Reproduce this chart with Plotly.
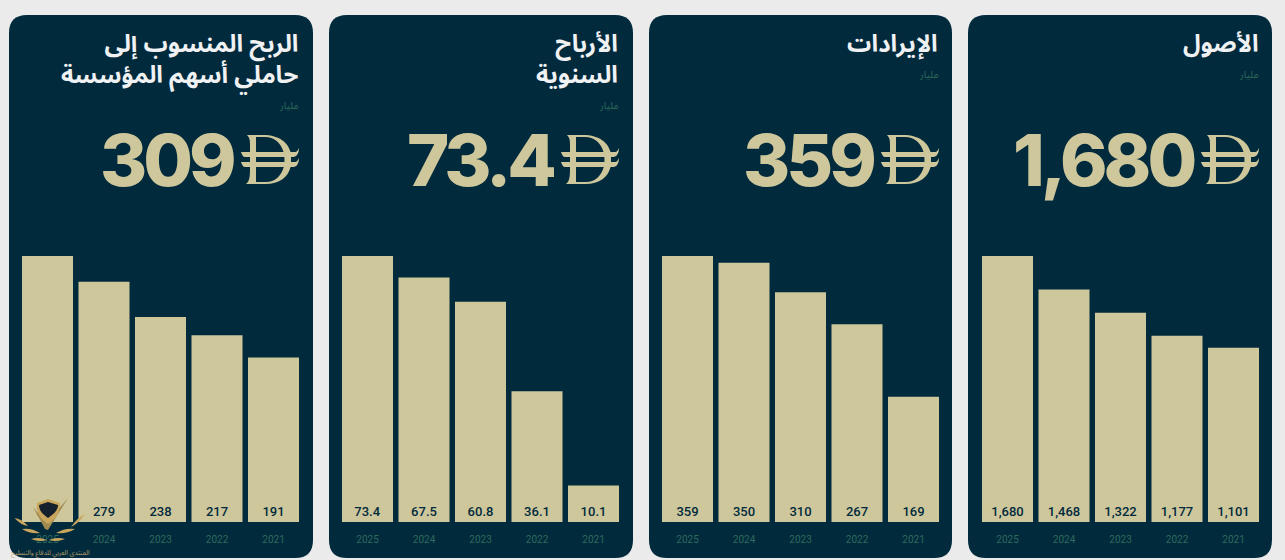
import re
import plotly.graph_objects as go

W, H = 1285, 560
YEARS = ["2025", "2024", "2023", "2022", "2021"]
assets = [1680, 1468, 1322, 1177, 1101]
revenue = [359, 350, 310, 267, 169]
annual_profit = [73.4, 67.5, 60.8, 36.1, 10.1]
shareholder_profit = [309, 279, 238, 217, 191]
labels_assets = ["1,680", "1,468", "1,322", "1,177", "1,101"]
labels_revenue = ["359", "350", "310", "267", "169"]
labels_annual = ["73.4", "67.5", "60.8", "36.1", "10.1"]
labels_share = ["309", "279", "238", "217", "191"]
titles = ["الأصول", "الإيرادات", "الأرباح<br>السنوية", "الربح المنسوب إلى<br>حاملي أسهم المؤسسة"]
headlines = ["1,680", "359", "73.4", "309"]
UNIT = "مليار"
WATERMARK = "المنتدى العربي للدفاع والتسليح"

NAVY = "#012a3d"
SAND = "#cec79b"
GREEN = "#2f6a5c"
WHITE = "#f0f1f3"
GOLD = "#c9a65c"
ARABIC = "Noto Sans Arabic, DejaVu Sans, sans-serif"
TRACK = 4

cards = [
    (968, 1272, 1259, assets, labels_assets),
    (649, 952, 939, revenue, labels_revenue),
    (329, 633, 619, annual_profit, labels_annual),
    (9, 313, 299, shareholder_profit, labels_share),
]

fx = lambda v: v / W
fy = lambda v: 1 - v / H


def to_paper(d):
    out = []
    is_x = True
    for tok in re.findall(r"[MLCQZ]|-?\d+\.?\d*", d):
        if tok in "MLCQZ":
            out.append(tok)
            is_x = True
        else:
            v = float(tok)
            out.append(f"{fx(v):.6f}" if is_x else f"{fy(v):.6f}")
            is_x = not is_x
    return " ".join(out)


def deco(d, color):
    return dict(type="path", xref="paper", yref="paper", path=to_paper(d), fillcolor=color,
                line=dict(width=0), layer="above")


def rounded(x0, y0, x1, y1, r):
    return (f"M{x0+r},{y0} L{x1-r},{y0} Q{x1},{y0} {x1},{y0+r} L{x1},{y1-r} Q{x1},{y1} {x1-r},{y1} "
            f"L{x0+r},{y1} Q{x0},{y1} {x0},{y1-r} L{x0},{y0+r} Q{x0},{y0} {x0+r},{y0} Z")


def dirham(xr):
    ox = xr - 58
    oy = 135
    d = (
        f"M{ox+6},{oy} L{ox+22},{oy} C{ox+39},{oy} {ox+47},{oy+8} {ox+49.5},{oy+17} "
        f"L{ox+54},{oy+17} C{ox+56},{oy+17} {ox+57},{oy+15} {ox+58},{oy+13} "
        f"C{ox+58},{oy+18} {ox+56},{oy+22} {ox+52},{oy+22} L{ox+50},{oy+22} L{ox+50},{oy+27} "
        f"L{ox+54},{oy+27} C{ox+56},{oy+27} {ox+57},{oy+25} {ox+58},{oy+23} "
        f"C{ox+58},{oy+28} {ox+56},{oy+32} {ox+52.4},{oy+32} L{ox+49.6},{oy+32} "
        f"C{ox+47},{oy+42} {ox+39},{oy+49} {ox+24},{oy+49} L{ox+5},{oy+49} "
        f"C{ox+9},{oy+46} {ox+9},{oy+40} {ox+9},{oy+32} L{ox+4},{oy+32} "
        f"C{ox+2},{oy+32} {ox+1},{oy+30} {ox},{oy+27} L{ox+9},{oy+27} L{ox+9},{oy+22} L{ox+4},{oy+22} "
        f"C{ox+2},{oy+22} {ox+1},{oy+20} {ox},{oy+17} L{ox+9},{oy+17} L{ox+9},{oy+10} "
        f"C{ox+9},{oy+6} {ox+9},{oy+3} {ox+6},{oy} Z "
        f"M{ox+15},{oy+2} L{ox+15},{oy+17} L{ox+42.5},{oy+17} C{ox+40},{oy+8} {ox+33},{oy+2} {ox+24},{oy+2} Z "
        f"M{ox+15},{oy+22} L{ox+15},{oy+27} L{ox+43.4},{oy+27} L{ox+43.4},{oy+22} Z "
        f"M{ox+15},{oy+32} L{ox+15},{oy+47} L{ox+25},{oy+47} C{ox+34},{oy+47} {ox+40},{oy+41} {ox+42.8},{oy+32} Z"
    )
    return deco(d, SAND)


def feather(x0, y0, x1, y1, t):
    mx, my = (x0 + x1) / 2, (y0 + y1) / 2
    return f"M{x0},{y0} Q{mx},{my+t} {x1},{y1} Q{mx},{my-t} {x0},{y0} Z"


def logo():
    """Stamp in the lower left corner of the screenshot."""
    c = 48
    items = [
        ("M33,507 L45,529 L48,530 L68,498 L50,519 L48,523 L43,519 Z", "#a08a50"),
        (f"M{c},499 L60,503 C60,512 56,519 {c},524 C40,519 36,512 37,503 Z", GOLD),
        (f"M{c},502 L58,505 C58,510 54,514 {c},518 C42,514 39,510 39,505 Z", "#14202c"),
        (feather(14.5, 518, 28, 526, 3.5), GOLD),
        (feather(22, 529, 40, 533, 3.5), GOLD),
        (feather(31, 539, 47, 540, 3), GOLD),
        (feather(85, 514, 71, 527, 3.5), GOLD),
        (feather(75, 529, 56, 533, 3.5), GOLD),
        (feather(65, 539, 49, 540, 3), GOLD),
    ]
    return [deco(d, col) for d, col in items]


fig = go.Figure()
shapes, annotations = [], []
layout_axes = {}
for i, (x0, x1, right, vals, labs) in enumerate(cards):
    n = "" if i == 0 else str(i + 1)
    shapes.append(dict(type="path", xref="paper", yref="paper", layer="below",
                       path=to_paper(rounded(x0, 15, x1, 558, 18)), fillcolor=NAVY, line=dict(width=0)))
    fig.add_trace(go.Bar(
        x=YEARS, y=vals, text=labs, textposition="inside", insidetextanchor="start",
        textangle=0, constraintext="none", cliponaxis=False,
        textfont=dict(family="Roboto, sans-serif", size=13, color=NAVY, weight=500),
        marker=dict(color=SAND, line=dict(width=0)),
        xaxis="x" + n, yaxis="y" + n, hoverinfo="x+y", showlegend=False,
    ))
    layout_axes["xaxis" + n] = dict(
        domain=[fx(right - 279.75), fx(right + 2.75)], anchor="y" + n, type="category",
        showgrid=False, zeroline=False, showline=False, ticks="", fixedrange=True,
        ticklabelstandoff=10, tickfont=dict(family="Roboto, sans-serif", size=10, color=GREEN),
    )
    layout_axes["yaxis" + n] = dict(
        domain=[fy(522), fy(256)], anchor="x" + n, range=[0, vals[0]], visible=False, fixedrange=True,
    )
    annotations.append(dict(
        text=titles[i], xref="paper", yref="paper", x=fx(right + 1), y=fy(17),
        xanchor="right", yanchor="top", align="right", showarrow=False,
        font=dict(family=ARABIC, size=24, color=WHITE, weight=700),
    ))
    annotations.append(dict(
        text=UNIT, xref="paper", yref="paper", x=fx(right + 2), y=fy(75 if i < 2 else 105),
        xanchor="right", yanchor="middle", showarrow=False,
        font=dict(family=ARABIC, size=10, color=GREEN),
    ))
    annotations.append(dict(
        text=headlines[i], xref="paper", yref="paper",
        x=fx(right - 64 + len(headlines[i]) * TRACK / 2), y=fy(159),
        xanchor="right", yanchor="middle", showarrow=False,
        font=dict(family="Inter, sans-serif", size=72, color=SAND, weight=800),
    ))
    shapes.append(dirham(right))

shapes += logo()
annotations.append(dict(
    text=WATERMARK, xref="paper", yref="paper", x=fx(50), y=fy(553),
    xanchor="center", yanchor="middle", showarrow=False,
    font=dict(family=ARABIC, size=6.5, color="#b9a16a"),
))

fig.update_layout(
    width=W, height=H, margin=dict(l=0, r=0, t=0, b=0), autosize=False,
    paper_bgcolor="#ebebeb", plot_bgcolor="rgba(0,0,0,0)", bargap=0.097,
    shapes=shapes, annotations=annotations, **layout_axes,
)
post = (
    "document.body.style.margin='0';document.body.style.background='#ebebeb';"
    "document.querySelectorAll('.annotation-text').forEach(function(t){"
    "if(parseFloat(t.style.fontSize)>60){t.style.letterSpacing='-%spx';}});" % TRACK
)
fig.write_html("out.html", config=dict(displayModeBar=False), post_script=post)
